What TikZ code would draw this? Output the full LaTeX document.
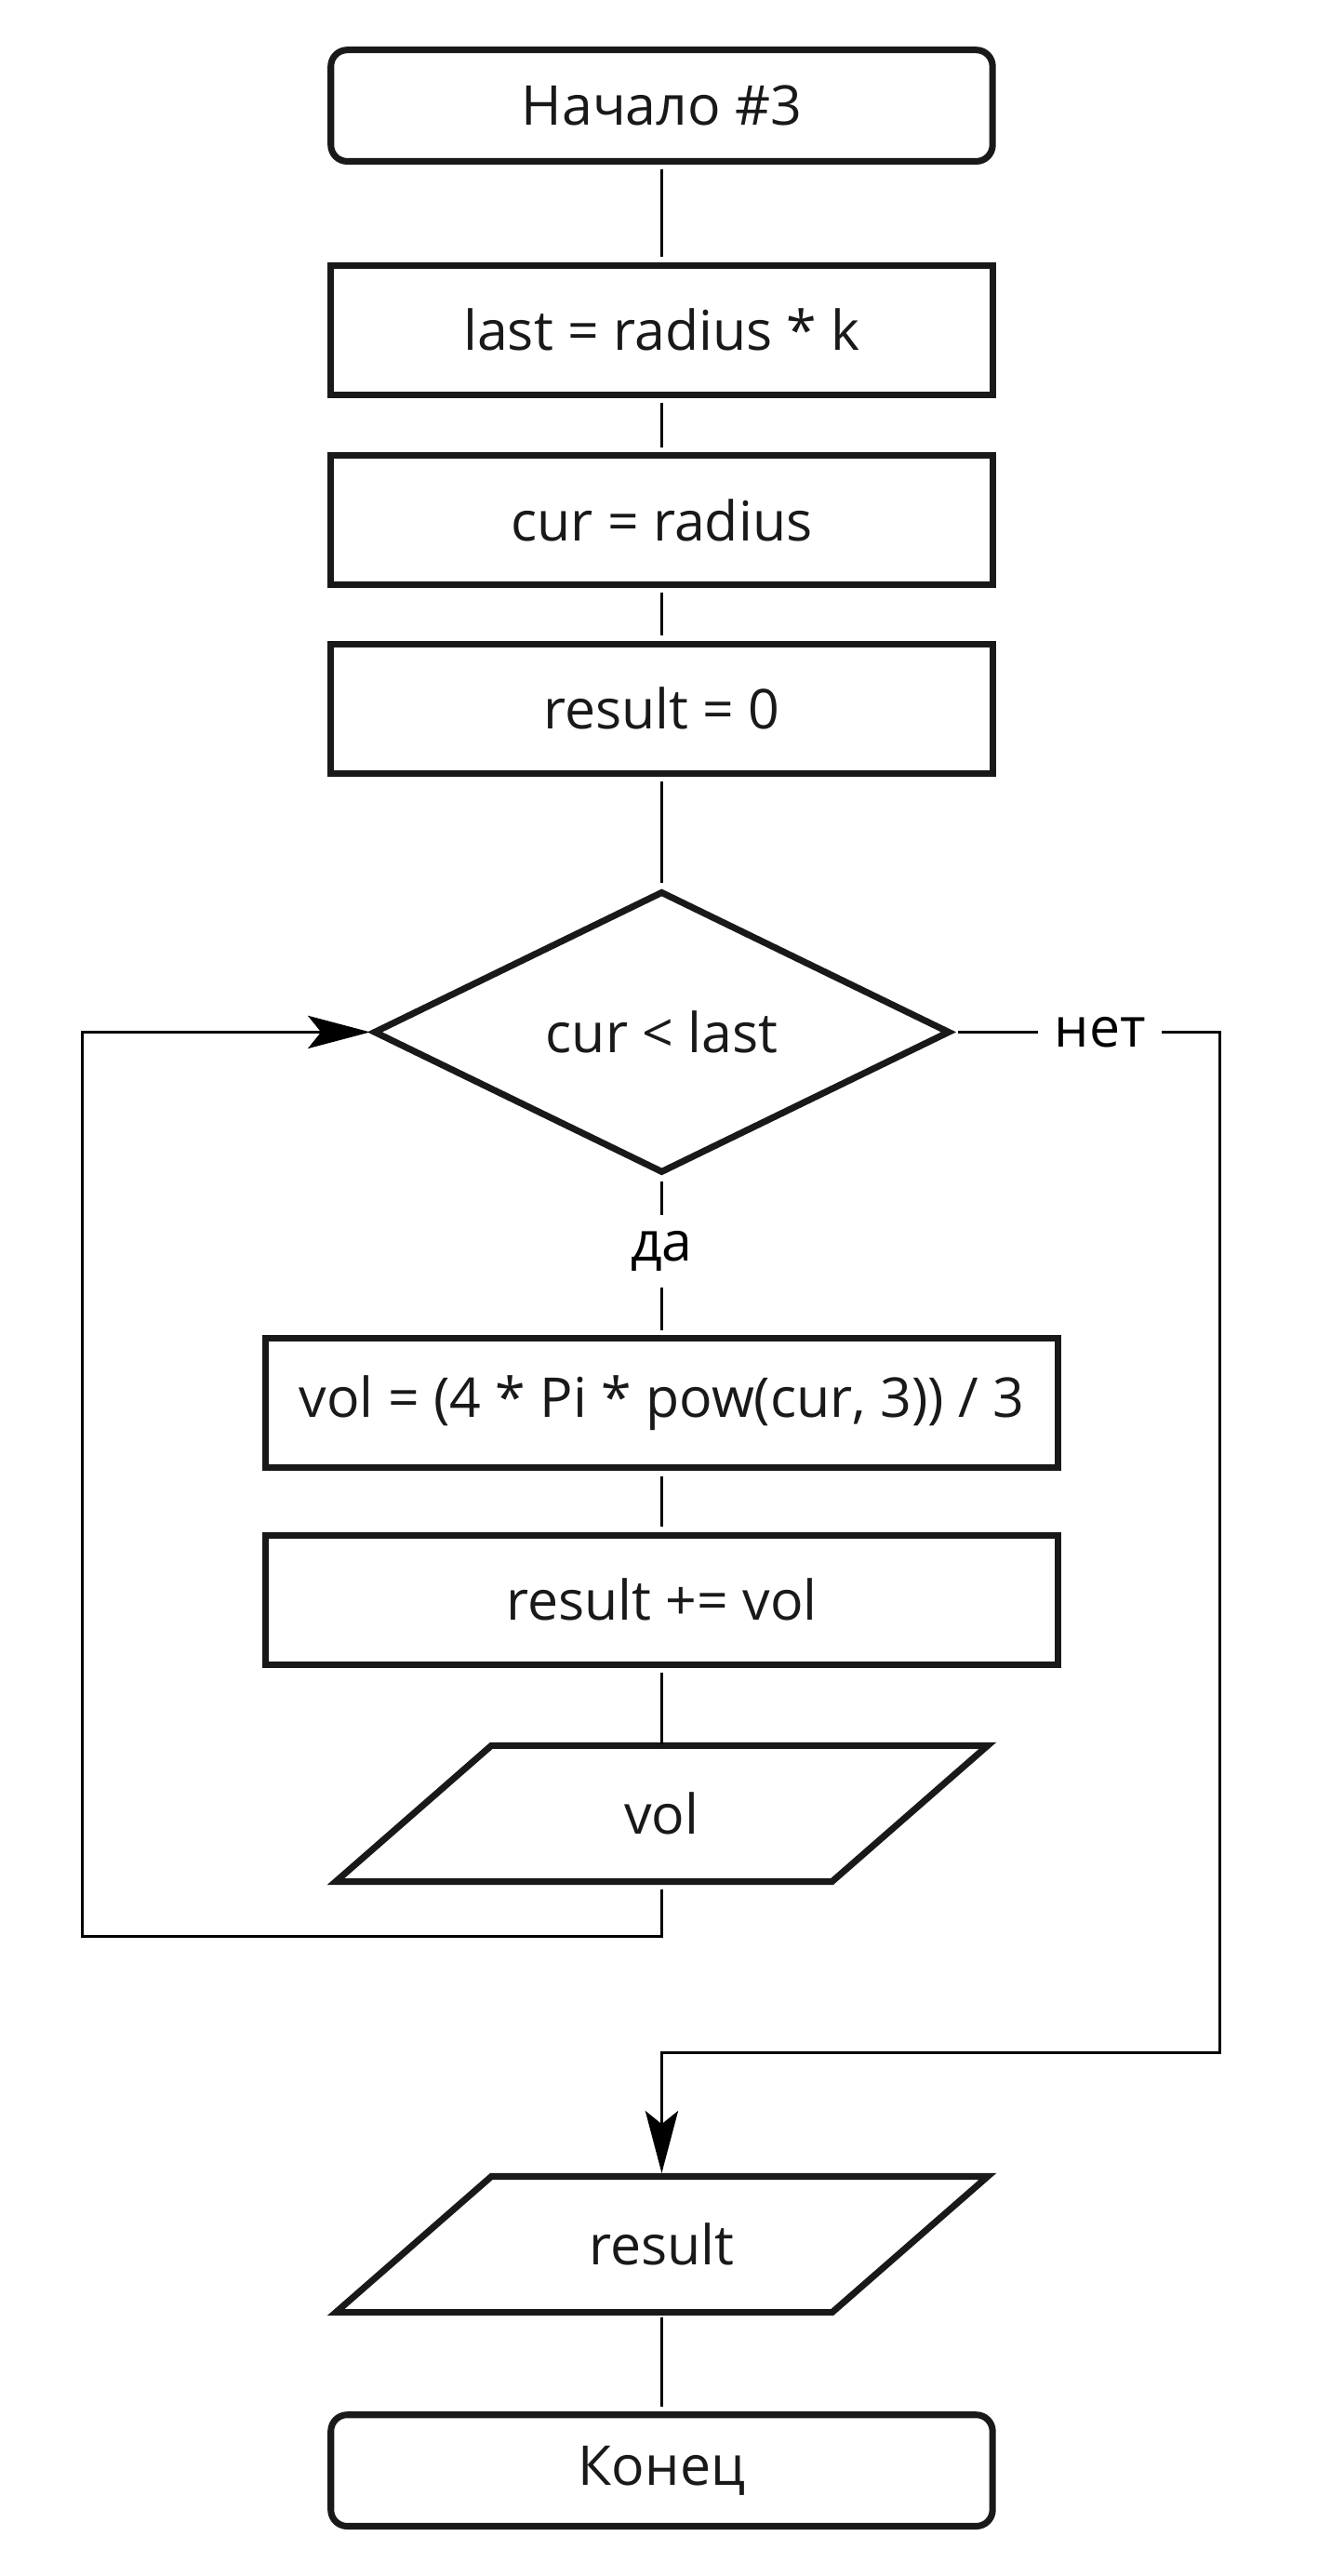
\documentclass[tikz,border=0pt]{standalone}
\usepackage{fontspec}
\setmainfont{Open Sans}
\usetikzlibrary{arrows.meta}
\usetikzlibrary{shapes.geometric}

\begin{document}
\begin{tikzpicture}[x=0.5pt, y=-0.5pt,
        font=\fontsize{16.75}{20}\selectfont,
        shapebox/.style={draw=black!90, line width=2pt, text=black!90},
        term/.style={shapebox, rectangle, rounded corners=5pt, minimum width=202pt, minimum height=34pt},
        proc/.style={shapebox, rectangle, minimum width=202pt, minimum height=39.5pt},
        wideproc/.style={proc, minimum width=242pt},
        decision/.style={shapebox, diamond, aspect=2.05, minimum width=176pt, minimum height=86pt, inner sep=0pt},
        iobox/.style={rectangle, text=black!90, minimum width=199pt, minimum height=41.5pt, outer sep=0pt},
        line/.style={black, line width=0.85pt, shorten <=1.5pt, shorten >=1.5pt},
        arrow/.style={line, -{Stealth[length=19pt, width=10pt, inset=4pt]}, shorten >=0pt},
        lbl/.style={fill=white, inner sep=5pt, text=black}
    ]
        \newcommand{\slant}{47.5pt}
        \useasboundingbox (0,0) rectangle (820,1572.4);

        \node[term] (start) at (404,64.5) {Начало \#3};
        \node[proc] (last) at (404,201.5) {last = radius * k};
        \node[proc] (cur) at (404,317.5) {cur = radius};
        \node[proc] (res0) at (404,432.5) {result = 0};
        \node[decision] (cond) at (404,630) {cur < last};
        \node[wideproc] (vol) at (404,856.5) {vol = (4 * Pi * pow(cur, 3)) / 3};
        \node[wideproc] (acc) at (404,976.5) {result += vol};
        \node[iobox] (outvol) at (404,1107) {vol};
        \node[iobox] (outres) at (404,1370) {result};
        \node[term] (finish) at (404,1508) {Конец};

        % parallelograms
        \draw[shapebox] ([xshift=\slant]outvol.north west) -- (outvol.north east) -- ([xshift=-\slant]outvol.south east) -- (outvol.south west) -- cycle;
        \draw[shapebox] ([xshift=\slant]outres.north west) -- (outres.north east) -- ([xshift=-\slant]outres.south east) -- (outres.south west) -- cycle;

        \coordinate (noright) at (745,1253);
        \coordinate (loopleft) at (50,1182);

        \draw[line] (start) -- (last);
        \draw[line] (last) -- (cur);
        \draw[line] (cur) -- (res0);
        \draw[line] (res0) -- (cond);
        \draw[line] (cond) -- node[lbl, pos=0.47]{да} (vol);
        \draw[line] (vol) -- (acc);
        \draw[line] (acc) -- ([yshift=-1pt]outvol.north);
        \draw[line] (outres.south) -- (finish);

        % loop back
        \draw[arrow] ([yshift=-1pt]outvol.south) -- (outvol.south |- loopleft) -- (loopleft) |- (cond.west);
        % exit
        \draw[arrow] (cond.east) -- node[lbl, pos=0.55]{нет} (cond.east -| noright) -- (noright) -- (noright -| outres) -- ([yshift=1pt]outres.north);
    \end{tikzpicture}
\end{document}
